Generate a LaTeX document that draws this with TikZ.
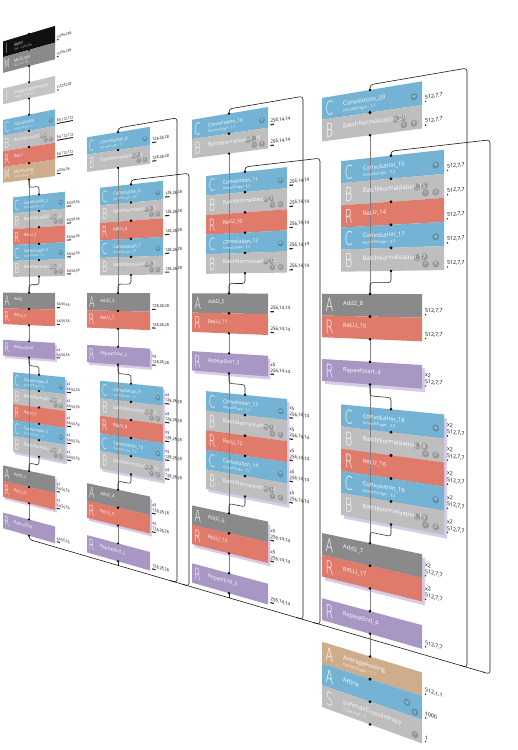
\documentclass[tikz,border=0pt]{standalone}
\usepackage{fontspec}
\setmainfont{Open Sans}
\IfFontExistsTF{DejaVu Sans ExtraLight}{\newfontfamily\thinf{DejaVu Sans ExtraLight}}{\newfontfamily\thinf{Open Sans}}
\pgfdeclarelayer{bg}
\pgfdeclarelayer{fg}
\pgfsetlayers{bg,main,fg}
\definecolor{cconv}{HTML}{74B3D3}
\definecolor{cbn}{HTML}{BEBEBE}
\definecolor{crelu}{HTML}{E07A6A}
\definecolor{cadd}{HTML}{8A8A8A}
\definecolor{crep}{HTML}{A896C3}
\definecolor{cpool}{HTML}{CDAD8C}
\definecolor{cinput}{HTML}{111111}
\definecolor{cmul}{HTML}{8A8A8A}
\definecolor{caug}{HTML}{C4C4C4}
\definecolor{cshadow}{HTML}{D6CCE7}
% perspective projection: x (image px), v (world row coordinate)
\newcommand\prj[2]{({#1},{460-((#2)-290)*(((#1)+825)/1147)})}
\newcommand\setcol[4]{\def\cxL{#1}\def\cxR{#2}\def\cxc{#3}\def\cts{#4}}
\def\rept{}
\tikzset{
  tconv/.style={fill=cconv}, tbn/.style={fill=cbn}, trelu/.style={fill=crelu},
  tadd/.style={fill=cadd}, trep/.style={fill=crep}, tpool/.style={fill=cpool},
  tinput/.style={fill=cinput}, tmul/.style={fill=cmul}, taug/.style={fill=caug},
  taffine/.style={fill=cconv}, tsoft/.style={fill=cbn},
  bigl/.style={text=white, font=\thinf\fontsize{18}{18}\selectfont, xscale=0.62, inner sep=0, anchor=center},
  ttl/.style={text=white, font=\fontsize{5.8}{6}\selectfont, inner sep=0, anchor=base west},
  prm/.style={text=white, font=\fontsize{4}{4.5}\selectfont, inner sep=0, anchor=base west, text opacity=0.85},
  lab/.style={text=black, font=\fontsize{5.2}{5.5}\selectfont, inner sep=0, anchor=base west},
  bdg/.style={fill=black, fill opacity=0.2},
  bdgt/.style={text=white, font=\fontsize{3.6}{3.6}\selectfont, inner sep=0},
  link/.style={draw=black!85, line width=0.55pt, rounded corners=2.5pt},
  flow/.style={draw=black!50, line width=0.5pt},
  frame/.style={draw=black!90, line width=0.6pt, rounded corners=3pt},
}
\newcommand\bd[3]{\fill[bdg] ({#1*\ww},#2) circle (3.4); \node[bdgt] at ({#1*\ww},#2) {#3};}
\newcommand\badgetconv{\bd{0.92}{-13}{W}}
\newcommand\badgetbn{\fill[bdg] ({0.74*\ww},-9.5) circle (3.4); \fill[bdg] ({0.81*\ww},-9) circle (3.4);
  \bd{0.82}{-16}{γ}\bd{0.92}{-16}{β}}
\newcommand\badgetaffine{\bd{0.85}{-10}{W}\bd{0.93}{-17}{b}}
\newcommand\badgetsoft{\bd{0.93}{-16}{T}}
% block: name, row, type, letter, title, param, label, bar length
\newcommand\blk[8]{%
  \pgfmathsetmacro\vt{98+21.75*(#2)}%
  \pgfmathsetmacro\vbt{\vt+21.75}%
  \ifx\rept\empty\else
    \pgfmathsetmacro\vts{\vt+3}\pgfmathsetmacro\vbs{\vbt+3}%
    \pgfmathsetmacro\xls{\cxL+3*\cts}\pgfmathsetmacro\xrs{\cxR+3*\cts}%
    \fill[cshadow] \prj{\xls}{\vts} -- \prj{\xrs}{\vts} -- \prj{\xrs}{\vbs} -- \prj{\xls}{\vbs} -- cycle;
  \fi
  \fill[#3] \prj{\cxL}{\vt} -- \prj{\cxR}{\vt} -- \prj{\cxR}{\vbt} -- \prj{\cxL}{\vbt} -- cycle;
  \path \prj{\cxc}{\vt} coordinate (#1-t);
  \path \prj{\cxc}{\vbt} coordinate (#1-b);
  \path \prj{\cxL}{\vt} coordinate (#1-o);
  \pgfmathsetmacro\sx{(\cxL+0.3*(\cxR-\cxL)+825)/1147}%
  \pgfmathsetmacro\cb{-\cts*(\vt+10.9-290)/1147}%
  \pgfmathsetmacro\ww{(\cxR-\cxL)/\cts}%
  \pgfmathsetmacro\dr{0.6+0.8*\cts}%
  \begin{pgfonlayer}{fg}
  \begin{scope}[cm={\cts,\cb,0,\sx,(#1-o)}, transform shape]
    \csname badge#3\endcsname
    \node[bigl] (#1-L) at ({0.075*\ww},-11) {#4};
    \node[ttl] (#1-N) at ({0.21*\ww},-11) {#5};
    \node[prm] (#1-P) at ({0.21*\ww},-17) {#6};
    \node[lab] (#1-S) at ({\ww+3},-17) {#7};
    \ifx\rept\empty\else \node[lab] (#1-X) at ({\ww+3},-10.5) {\rept}; \fi
    \fill[black!85] ({\ww+3},-18.6) rectangle ++(#8,-1.3);
  \end{scope}
  \fill (#1-t) circle (\dr); \fill (#1-b) circle (\dr);
  \end{pgfonlayer}
}
\newcommand\scurve[5]{\draw[link] (#1) -- \prj{#3}{#5} -- \prj{#4}{#5} -- (#2);}
\begin{document}
\begin{tikzpicture}[x=1pt,y=1pt]
\useasboundingbox (0,0) rectangle (517,750);
\begin{pgfonlayer}{bg}\fill[white] (0,0) rectangle (517,750);\end{pgfonlayer}
% ---------------- column 1
\setcol{3}{55}{29}{0.62}
\blk{inp}{-7}{tinput}{I}{Input}{Size : 3,256,256}{3,256,256}{3}
\blk{mul}{-6}{tmul}{M}{MulScalar}{Val : 0.01735}{3,256,256}{3}
\blk{aug}{-4}{taug}{I}{ImageAugmentation}{Shape : 3,224,224}{3,224,224}{3}
\blk{cv1}{-2}{tconv}{C}{Convolution}{KernelShape : 7,7}{64,112,112}{26}
\blk{bn1}{-1}{tbn}{B}{BatchNormalization}{}{64,112,112}{26}
\blk{re1}{0}{trelu}{R}{ReLU}{}{64,112,112}{26}
\blk{mp1}{1}{tpool}{M}{MaxPooling}{KernelShape : 3,3}{64,56,56}{6}
\setcol{13}{65}{39}{0.62}
\blk{cv2}{3}{tconv}{C}{Convolution\_2}{KernelShape : 3,3}{64,56,56}{7}
\blk{bn2}{4}{tbn}{B}{BatchNormalization\_2}{}{64,56,56}{7}
\blk{re2}{5}{trelu}{R}{ReLU\_2}{}{64,56,56}{7}
\blk{cv3}{6}{tconv}{C}{Convolution\_3}{KernelShape : 3,3}{64,56,56}{7}
\blk{bn3}{7}{tbn}{B}{BatchNormalization\_3}{}{64,56,56}{7}
\setcol{3}{55}{29}{0.62}
\blk{ad1}{9}{tadd}{A}{Add2}{}{64,56,56}{5}
\blk{re3}{10}{trelu}{R}{ReLU\_3}{}{64,56,56}{5}
\def\rept{x2}
\blk{rs1}{12}{trep}{R}{RepeatStart}{}{64,56,56}{5}
\setcol{13}{65}{39}{0.62}
\blk{cv4}{14}{tconv}{C}{Convolution\_4}{KernelShape : 3,3}{64,56,56}{7}
\blk{bn4}{15}{tbn}{B}{BatchNormalization\_4}{}{64,56,56}{7}
\blk{re4}{16}{trelu}{R}{ReLU\_4}{}{64,56,56}{7}
\blk{cv5}{17}{tconv}{C}{Convolution\_5}{KernelShape : 3,3}{64,56,56}{7}
\blk{bn5}{18}{tbn}{B}{BatchNormalization\_5}{}{64,56,56}{7}
\setcol{3}{55}{29}{0.62}
\blk{ad2}{20}{tadd}{A}{Add2\_2}{}{64,56,56}{5}
\blk{re5}{21}{trelu}{R}{ReLU\_5}{}{64,56,56}{5}
\def\rept{}
\blk{ren1}{23}{trep}{R}{RepeatEnd}{}{64,56,56}{5}
% ---------------- column 2
\setcol{87}{150}{118}{0.71}
\blk{cv8}{0}{tconv}{C}{Convolution\_8}{KernelShape : 1,1}{128,28,28}{6}
\blk{bn8}{1}{tbn}{B}{BatchNormalization\_8}{}{128,28,28}{6}
\setcol{100}{163}{131}{0.71}
\blk{cv6}{3}{tconv}{C}{Convolution\_6}{KernelShape : 3,3}{128,28,28}{6}
\blk{bn6}{4}{tbn}{B}{BatchNormalization\_6}{}{128,28,28}{6}
\blk{re6}{5}{trelu}{R}{ReLU\_6}{}{128,28,28}{6}
\blk{cv7}{6}{tconv}{C}{Convolution\_7}{KernelShape : 3,3}{128,28,28}{6}
\blk{bn7}{7}{tbn}{B}{BatchNormalization\_7}{}{128,28,28}{6}
\setcol{87}{150}{118}{0.71}
\blk{ad3}{9}{tadd}{A}{Add2\_3}{}{128,28,28}{5}
\blk{re7}{10}{trelu}{R}{ReLU\_7}{}{128,28,28}{5}
\def\rept{x3}
\blk{rs2}{12}{trep}{R}{RepeatStart\_2}{}{128,28,28}{5}
\setcol{100}{163}{131}{0.71}
\blk{cv9}{14}{tconv}{C}{Convolution\_9}{KernelShape : 3,3}{128,28,28}{6}
\blk{bn9}{15}{tbn}{B}{BatchNormalization\_9}{}{128,28,28}{6}
\blk{re8}{16}{trelu}{R}{ReLU\_8}{}{128,28,28}{6}
\blk{cv10}{17}{tconv}{C}{Convolution\_10}{KernelShape : 3,3}{128,28,28}{6}
\blk{bn10}{18}{tbn}{B}{BatchNormalization\_10}{}{128,28,28}{6}
\setcol{87}{150}{118}{0.71}
\blk{ad4}{20}{tadd}{A}{Add2\_4}{}{128,28,28}{5}
\blk{re9}{21}{trelu}{R}{ReLU\_9}{}{128,28,28}{5}
\def\rept{}
\blk{ren2}{23}{trep}{R}{RepeatEnd\_2}{}{128,28,28}{5}
% ---------------- column 3
\setcol{192}{268}{229}{0.83}
\blk{cv16}{0}{tconv}{C}{Convolution\_16}{KernelShape : 1,1}{256,14,14}{4}
\blk{bn16}{1}{tbn}{B}{BatchNormalization\_16}{}{256,14,14}{4}
\setcol{206}{287}{245}{0.83}
\blk{cv11}{3}{tconv}{C}{Convolution\_11}{KernelShape : 3,3}{256,14,14}{4}
\blk{bn11}{4}{tbn}{B}{BatchNormalization\_11}{}{256,14,14}{4}
\blk{re10}{5}{trelu}{R}{ReLU\_10}{}{256,14,14}{4}
\blk{cv12}{6}{tconv}{C}{Convolution\_12}{KernelShape : 3,3}{256,14,14}{4}
\blk{bn12}{7}{tbn}{B}{BatchNormalization\_12}{}{256,14,14}{4}
\setcol{192}{268}{229}{0.83}
\blk{ad5}{9}{tadd}{A}{Add2\_5}{}{256,14,14}{4}
\blk{re11}{10}{trelu}{R}{ReLU\_11}{}{256,14,14}{4}
\def\rept{x5}
\blk{rs3}{12}{trep}{R}{RepeatStart\_3}{}{256,14,14}{4}
\setcol{206}{287}{245}{0.83}
\blk{cv13}{14}{tconv}{C}{Convolution\_13}{KernelShape : 3,3}{256,14,14}{4}
\blk{bn13}{15}{tbn}{B}{BatchNormalization\_13}{}{256,14,14}{4}
\blk{re12}{16}{trelu}{R}{ReLU\_12}{}{256,14,14}{4}
\blk{cv14}{17}{tconv}{C}{Convolution\_14}{KernelShape : 3,3}{256,14,14}{4}
\blk{bn14}{18}{tbn}{B}{BatchNormalization\_14}{}{256,14,14}{4}
\setcol{192}{268}{229}{0.83}
\blk{ad6}{20}{tadd}{A}{Add2\_6}{}{256,14,14}{4}
\blk{re13}{21}{trelu}{R}{ReLU\_13}{}{256,14,14}{4}
\def\rept{}
\blk{ren3}{23}{trep}{R}{RepeatEnd\_3}{}{256,14,14}{4}
% ---------------- column 4
\setcol{322}{422}{370}{1}
\blk{cv20}{0}{tconv}{C}{Convolution\_20}{KernelShape : 1,1}{512,7,7}{1}
\blk{bn20}{1}{tbn}{B}{BatchNormalization\_20}{}{512,7,7}{1}
\setcol{341}{444}{391}{1}
\blk{cv15}{3}{tconv}{C}{Convolution\_15}{KernelShape : 3,3}{512,7,7}{1}
\blk{bn15}{4}{tbn}{B}{BatchNormalization\_15}{}{512,7,7}{1}
\blk{re14}{5}{trelu}{R}{ReLU\_14}{}{512,7,7}{1}
\blk{cv17}{6}{tconv}{C}{Convolution\_17}{KernelShape : 3,3}{512,7,7}{1}
\blk{bn17}{7}{tbn}{B}{BatchNormalization\_17}{}{512,7,7}{1}
\setcol{322}{422}{370}{1}
\blk{ad8}{9}{tadd}{A}{Add2\_8}{}{512,7,7}{1}
\blk{re15}{10}{trelu}{R}{ReLU\_15}{}{512,7,7}{1}
\def\rept{x2}
\blk{rs4}{12}{trep}{R}{RepeatStart\_4}{}{512,7,7}{1}
\setcol{341}{444}{391}{1}
\blk{cv18}{14}{tconv}{C}{Convolution\_18}{KernelShape : 3,3}{512,7,7}{1}
\blk{bn18}{15}{tbn}{B}{BatchNormalization\_18}{}{512,7,7}{1}
\blk{re16}{16}{trelu}{R}{ReLU\_16}{}{512,7,7}{1}
\blk{cv19}{17}{tconv}{C}{Convolution\_19}{KernelShape : 3,3}{512,7,7}{1}
\blk{bn19}{18}{tbn}{B}{BatchNormalization\_19}{}{512,7,7}{1}
\setcol{322}{422}{370}{1}
\blk{ad7}{20}{tadd}{A}{Add2\_7}{}{512,7,7}{1}
\blk{re17}{21}{trelu}{R}{ReLU\_17}{}{512,7,7}{1}
\def\rept{}
\blk{ren4}{23}{trep}{R}{RepeatEnd\_4}{}{512,7,7}{1}
\blk{avg}{25}{tpool}{A}{AveragePooling}{KernelShape : 7,7}{512,1,1}{1}
\blk{aff}{26}{taffine}{A}{Affine}{}{1000}{1}
\blk{sm}{27}{tsoft}{S}{SoftmaxCrossEntropy}{T.Dataset : y}{1}{1}
% ---------------- in-column connectors
\draw[flow] (mul-b) -- (aug-t);
\draw[flow] (aug-b) -- (cv1-t);
\draw[flow] (mp1-b) -- (ad1-t);
\scurve{mp1-b}{cv2-t}{29}{39}{152.4}
\scurve{bn3-b}{ad1-t}{39}{29}{283}
\draw[flow] (re3-b) -- (rs1-t);
\draw[flow] (rs1-b) -- (ad2-t);
\scurve{rs1-b}{cv4-t}{29}{39}{391.6}
\scurve{bn5-b}{ad2-t}{39}{29}{522.4}
\draw[flow] (re5-b) -- (ren1-t);
% col 2
\draw[flow] (bn8-b) -- (ad3-t);
\scurve{bn7-b}{ad3-t}{131}{118}{283}
\draw[flow] (re7-b) -- (rs2-t);
\draw[flow] (rs2-b) -- (ad4-t);
\scurve{rs2-b}{cv9-t}{118}{131}{391.6}
\scurve{bn10-b}{ad4-t}{131}{118}{522.4}
\draw[flow] (re9-b) -- (ren2-t);
% col 3
\draw[flow] (bn16-b) -- (ad5-t);
\scurve{bn12-b}{ad5-t}{245}{229}{283}
\draw[flow] (re11-b) -- (rs3-t);
\draw[flow] (rs3-b) -- (ad6-t);
\scurve{rs3-b}{cv13-t}{229}{245}{391.6}
\scurve{bn14-b}{ad6-t}{245}{229}{522.4}
\draw[flow] (re13-b) -- (ren3-t);
% col 4
\draw[flow] (bn20-b) -- (ad8-t);
\scurve{bn17-b}{ad8-t}{391}{370}{283}
\draw[flow] (re15-b) -- (rs4-t);
\draw[flow] (rs4-b) -- (ad7-t);
\scurve{rs4-b}{cv18-t}{370}{391}{391.6}
\scurve{bn19-b}{ad7-t}{391}{370}{522.4}
\draw[flow] (re17-b) -- (ren4-t);
\draw[flow] (ren4-b) -- (avg-t);
% ---------------- column-to-column links
\begin{pgfonlayer}{bg}
\path \prj{29}{625} coordinate (bus0);
\path \prj{484}{625} coordinate (bus1);
\draw[frame] (ren1-b) -- (bus0) -- (bus1);
\draw[frame] (ren2-b) -- \prj{118}{625};
\draw[frame] (ren3-b) -- \prj{229}{625};
\draw[frame] \prj{170}{625} -- \prj{177}{625} -- \prj{177}{93} -- \prj{118}{93} -- (cv8-t);
\draw[frame] \prj{182}{625} -- \prj{189}{625} -- \prj{189}{158} -- \prj{131}{158} -- (cv6-t);
\draw[frame] \prj{296}{625} -- \prj{303}{625} -- \prj{303}{93} -- \prj{229}{93} -- (cv16-t);
\draw[frame] \prj{313}{625} -- \prj{320}{625} -- \prj{320}{158} -- \prj{245}{158} -- (cv11-t);
\draw[frame] \prj{460}{625} -- \prj{467}{625} -- \prj{467}{93} -- \prj{370}{93} -- (cv20-t);
\draw[frame] \prj{483}{625} -- \prj{490}{625} -- \prj{490}{159} -- \prj{391}{159} -- (cv15-t);
\end{pgfonlayer}
\end{tikzpicture}
\end{document}
